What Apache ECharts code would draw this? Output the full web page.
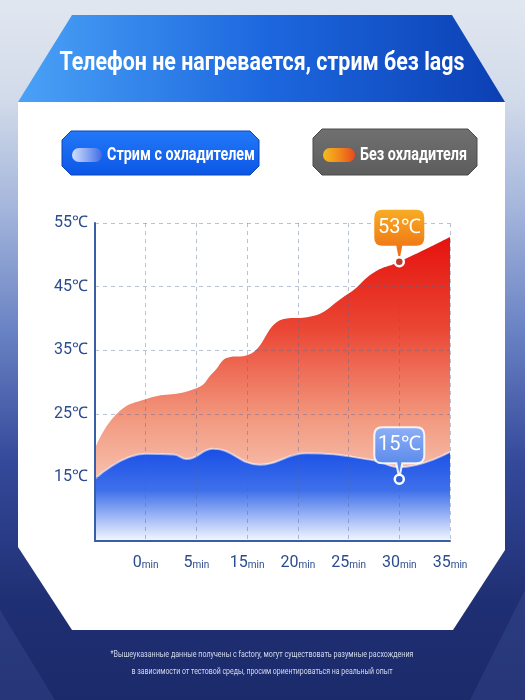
<!DOCTYPE html>
<html>
<head>
<meta charset="utf-8">
<title>Температура телефона</title>
<script src="https://cdn.jsdelivr.net/npm/echarts@6/dist/echarts.min.js"></script>
<style>
    html, body { margin: 0; padding: 0; background: #1b2a6a; }
    #chart { width: 525px; height: 700px; }
</style>
</head>
<body>
<div id="chart"></div>
<script>
// bottom ticks, first slot sits on the y axis and has no label
const xTicks = ['', '0', '5', '15', '20', '25', '30', '35'];
const xUnit = 'min';
const yTicks = [15, 25, 35, 45, 55];

const seriesNames = ['Стрим с охладителем', 'Без охладителя'];

// without cooler (red area), positions are tick slots
const hotPos  = [0, 0.43, 1, 2, 2.33, 2.65, 2.95, 3.78, 4.1, 5, 5.5, 6, 7];
const hotTemp = [19.5, 25, 27.3, 29, 31.5, 33.9, 34.1, 40, 40.1, 43.9, 47.2, 48.9, 52.8];

// with cooler (blue area)
const coolPos  = [0, 1, 1.55, 1.81, 2.33, 3.25, 4.17, 5.49, 6, 7];
const coolTemp = [14.8, 18.7, 18.6, 17.9, 19.5, 17.0, 18.8, 17.7, 16.6, 19];

// callouts at 30min: [cool, hot]
const calloutPos = 6;
const calloutAt = [14.7, 48.9];
const calloutLabels = [15, 53];

const titleText = 'Телефон не нагревается, стрим без lags';
const footnote = [
    '*Вышеуказанные данные получены с factory, могут существовать разумные расхождения',
    'в зависимости от тестовой среды, просим ориентироваться на реальный опыт'
];

const bubblePath = 'path://M8,0 H42 Q50,0 50,8 V28 Q50,36 42,36 H28 L25.6,48 L24.4,48 L22,36 H8 Q0,36 0,28 V8 Q0,0 8,0 Z';

document.addEventListener('DOMContentLoaded', function() {
    initChart();
});

function fitScale(text, font, width) {
    const ctx = document.createElement('canvas').getContext('2d');
    ctx.font = font;
    return width / ctx.measureText(text).width;
}

function chamfer(x, y, w, h, c) {
    return [
        [x + c, y], [x + w - c, y], [x + w, y + c], [x + w, y + h - c],
        [x + w - c, y + h], [x + c, y + h], [x, y + h - c], [x, y + c]
    ];
}

function grad(x2, y2, stops) {
    return new echarts.graphic.LinearGradient(0, 0, x2, y2,
        stops.map((c, i) => ({ offset: i / (stops.length - 1), color: c })));
}

function label(text, font, x, y, width, align, fill) {
    return {
        type: 'text',
        x: x,
        y: y,
        scaleX: fitScale(text, font, width),
        style: {
            text: text,
            font: font,
            fill: fill,
            textAlign: align,
            align: align,
            textVerticalAlign: 'middle',
            verticalAlign: 'middle'
        }
    };
}

function buildGraphics() {
    return [
        {
            type: 'rect',
            shape: { x: 0, y: 0, width: 525, height: 700 },
            style: {
                fill: new echarts.graphic.LinearGradient(0, 0, 0, 1, [
                    { offset: 0, color: '#e1e7f0' },
                    { offset: 0.14, color: '#d2dbea' },
                    { offset: 0.3, color: '#a3b5db' },
                    { offset: 0.47, color: '#6a83c4' },
                    { offset: 0.66, color: '#34499a' },
                    { offset: 0.86, color: '#1f2f73' },
                    { offset: 1, color: '#1b2a6a' }
                ])
            }
        },
        {
            type: 'polygon',
            shape: { points: [[0, 610], [55, 700], [0, 700]] },
            style: { fill: 'rgba(120,150,220,0.12)' }
        },
        {
            type: 'polygon',
            shape: { points: [[525, 590], [470, 700], [525, 700]] },
            style: { fill: 'rgba(120,150,220,0.12)' }
        },
        {
            type: 'polygon',
            shape: { points: [[72, 15], [452, 15], [505, 102], [18, 102]] },
            style: { fill: grad(1, 0, ['#4aa2f6', '#1d68df', '#0c40b4']) }
        },
        {
            type: 'polygon',
            shape: { points: [[18, 102], [505, 102], [505, 550], [453, 630], [72, 630], [18, 547]] },
            style: { fill: '#ffffff' }
        },
        label(titleText, 'bold 25px Roboto', 262, 64, 405, 'center', '#ffffff'),
        {
            type: 'polygon',
            shape: { points: chamfer(62, 131, 197, 44, 9) },
            style: { fill: grad(0, 1, ['#2379f8', '#0b56e6']), stroke: '#0c45b8', lineWidth: 1 }
        },
        {
            type: 'rect',
            shape: { x: 72, y: 148, width: 30, height: 14, r: 7 },
            style: { fill: grad(1, 0, ['#d2defc', '#8aa8f2', '#3d6de6']) }
        },
        label(seriesNames[0], 'bold 18px Roboto', 107, 155, 148, 'left', '#ffffff'),
        {
            type: 'polygon',
            shape: { points: chamfer(313, 129, 164, 46, 9) },
            style: { fill: grad(0, 1, ['#707070', '#5d5d5d']), stroke: '#4a4a4a', lineWidth: 1 }
        },
        {
            type: 'rect',
            shape: { x: 323, y: 148, width: 32, height: 14, r: 7 },
            style: { fill: grad(1, 0, ['#f7bb1e', '#f08a1c', '#e84a1c']) }
        },
        label(seriesNames[1], 'bold 18px Roboto', 360, 155, 107, 'left', '#ffffff'),
        label(footnote[0], '9px Roboto', 262, 655, 303, 'center', '#d3d9ec'),
        label(footnote[1], '9px Roboto', 262, 672, 261, 'center', '#d3d9ec')
    ];
}

function calloutItems(idx, bubbleColor, dotStyle) {
    return [
        {
            coord: [calloutPos, calloutAt[idx]],
            symbol: bubblePath,
            symbolSize: [50, 48],
            symbolOffset: [0, -28],
            itemStyle: bubbleColor,
            label: {
                show: true,
                formatter: calloutLabels[idx] + '℃',
                color: '#ffffff',
                fontSize: 20,
                fontFamily: 'Roboto',
                offset: [0, -6]
            }
        },
        {
            coord: [calloutPos, calloutAt[idx]],
            symbol: 'circle',
            symbolSize: 9,
            itemStyle: dotStyle,
            label: { show: false }
        }
    ];
}

function initChart() {
    const chart = echarts.init(document.getElementById('chart'));
    const axisColor = '#2b4c8f';

    const option = {
        animation: false,
        textStyle: { fontFamily: 'Roboto' },
        graphic: { elements: buildGraphics() },
        grid: { left: 95, right: 75, top: 223, bottom: 159 },
        xAxis: {
            type: 'value',
            min: 0,
            max: 7,
            interval: 1,
            z: 3,
            axisLine: { lineStyle: { color: '#3a5ea6', width: 2 } },
            axisTick: { show: false },
            splitLine: {
                show: true,
                lineStyle: { type: [4, 4], color: 'rgba(80,100,150,0.4)' }
            },
            axisLabel: {
                margin: 14,
                formatter: v => xTicks[v] ? '{n|' + xTicks[v] + '}{u|' + xUnit + '}' : '',
                rich: {
                    n: { fontSize: 16, color: axisColor },
                    u: { fontSize: 10, color: axisColor, padding: [4, 0, 0, 0] }
                }
            }
        },
        yAxis: {
            type: 'value',
            min: 5,
            max: 55,
            interval: 10,
            z: 3,
            axisLine: { show: true, lineStyle: { color: '#3a5ea6', width: 2 } },
            axisTick: { show: false },
            splitLine: {
                lineStyle: { type: [4, 4], color: 'rgba(80,100,150,0.4)' }
            },
            axisLabel: {
                margin: 7,
                color: axisColor,
                fontSize: 16,
                formatter: v => yTicks.includes(v) ? v + '℃' : ''
            }
        },
        series: [
            {
                name: seriesNames[1],
                type: 'line',
                smooth: 0.5,
                symbol: 'none',
                z: 2,
                data: hotPos.map((x, i) => [x, hotTemp[i]]),
                lineStyle: { width: 0 },
                areaStyle: {
                    origin: 'start',
                    opacity: 1,
                    color: new echarts.graphic.LinearGradient(0, 0, 0, 1, [
                        { offset: 0, color: '#e5120e' },
                        { offset: 0.3, color: '#ea4633' },
                        { offset: 0.6, color: '#f29a80' },
                        { offset: 1, color: '#fde6dc' }
                    ])
                },
                markPoint: {
                    data: calloutItems(1,
                        { color: grad(0, 1, ['#f7ac24', '#ee6a12']) },
                        { color: '#c0392b', borderColor: '#ffffff', borderWidth: 2.5 })
                }
            },
            {
                name: seriesNames[0],
                type: 'line',
                smooth: 0.45,
                symbol: 'none',
                z: 2,
                data: coolPos.map((x, i) => [x, coolTemp[i]]),
                lineStyle: { width: 2, color: 'rgba(255,255,255,0.55)' },
                areaStyle: {
                    origin: 'start',
                    opacity: 1,
                    color: new echarts.graphic.LinearGradient(0, 0, 0, 1, [
                        { offset: 0, color: '#1a4fe6' },
                        { offset: 0.45, color: '#3f70ea' },
                        { offset: 1, color: '#f4f7ff' }
                    ])
                },
                markPoint: {
                    data: calloutItems(0,
                        {
                            color: grad(0, 1, ['#8db0f7', '#4d7fe8']),
                            borderColor: 'rgba(255,255,255,0.85)',
                            borderWidth: 2
                        },
                        { color: '#2d5fe0', borderColor: '#ffffff', borderWidth: 2.5 })
                }
            }
        ]
    };

    chart.setOption(option);

    window.addEventListener('resize', () => {
        chart.resize();
    });
}
</script>
</body>
</html>
